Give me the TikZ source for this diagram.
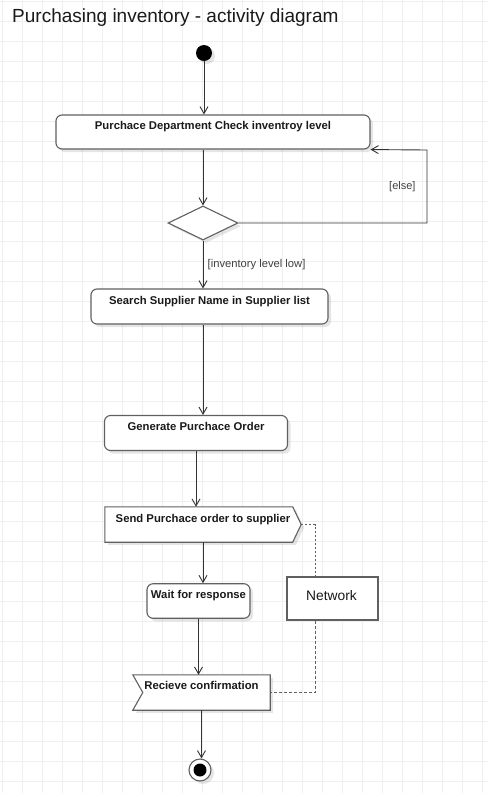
\documentclass[tikz,border=0pt]{standalone}
\usepackage{fontspec}
\setmainfont{Liberation Sans}
\usetikzlibrary{arrows.meta,shapes.geometric,shadows}
\definecolor{gridc}{HTML}{EFEFEF}
\definecolor{linec}{HTML}{333333}
\definecolor{boxc}{HTML}{606060}
\definecolor{txtc}{HTML}{1A1A1A}
\begin{document}
\begin{tikzpicture}[x=1pt,y=-1pt,
  shd/.style={drop shadow={shadow xshift=3pt,shadow yshift=-3pt,opacity=0.10,fill=black}},
  actbox/.style={draw=boxc,line width=1.1pt,fill=white,rounded corners=6pt,inner sep=0pt,shd},
  sigbox/.style={inner sep=0pt},
  sigline/.style={draw=boxc,line width=1.1pt,fill=white,shd},
  arr/.style={draw=linec,line width=0.9pt,-{Straight Barb[length=7pt,width=8pt]}},
  dotline/.style={draw=boxc,line width=1pt,dash pattern=on 2pt off 2pt},
  btxt/.style={font=\fontsize{11.3}{13}\selectfont\bfseries,text=txtc,inner sep=0pt,anchor=base},
  gtxt/.style={font=\fontsize{11.2}{13}\selectfont,text=black!75,inner sep=0pt,anchor=base west}
]
\useasboundingbox (0,0) rectangle (488,793);
\fill[white] (0,0) rectangle (488,793);
% grid
\foreach \i in {0,...,24} \draw[gridc,line width=0.8pt] (2.3+20*\i,0) -- (2.3+20*\i,793);
\foreach \j in {0,...,39} \draw[gridc,line width=0.8pt] (0,1.7+20*\j) -- (488,1.7+20*\j);

% title
\node[font=\fontsize{19}{22}\selectfont,text=txtc,inner sep=0pt,anchor=base west] (title) at (12,22.3) {Purchasing inventory - activity diagram};

% initial
\node[circle,fill=black,minimum size=16pt,inner sep=0pt,shd] (init) at (204,53) {};

% actions
\node[actbox,minimum width=314pt,minimum height=34pt] (act1) at (213,132) {};
\node[btxt] (t1) at ([yshift=-15.5pt]act1.north) {Purchace Department Check inventroy level};

\node[diamond,draw=boxc,line width=1.1pt,fill=white,minimum width=70pt,minimum height=34pt,inner sep=0pt,shd] (dec) at (203,223) {};

\node[actbox,minimum width=237pt,minimum height=35pt] (act2) at (209.5,306.5) {};
\node[btxt] (t2) at ([yshift=-16pt]act2.north) {Search Supplier Name in Supplier list};

\node[actbox,minimum width=183pt,minimum height=35pt] (act3) at (196,433) {};
\node[btxt] (t3) at ([yshift=-15.5pt]act3.north) {Generate Purchace Order};

\node[sigbox,minimum width=196pt,minimum height=35pt] (send) at (203,524.5) {};
\draw[sigline] (send.north west) -- ([xshift=-8.5pt]send.north east) -- (send.east) -- ([xshift=-8.5pt]send.south east) -- (send.south west) -- cycle;
\node[btxt] (t4) at ([yshift=-15.5pt]send.north) {Send Purchace order to supplier};

\node[actbox,minimum width=103pt,minimum height=34.5pt] (wait) at (198.5,601) {};
\node[btxt] (t5) at ([yshift=-15.5pt]wait.north) {Wait for response};

\node[draw=boxc,line width=1.1pt,fill=white,minimum width=91pt,minimum height=43pt,inner sep=0pt] (net) at (332.5,598.5) {};
\node[font=\fontsize{13.8}{16}\selectfont,text=txtc,inner sep=0pt,anchor=base] (tnet) at (331.5,600) {Network};

\node[sigbox,minimum width=137pt,minimum height=35pt] (recv) at (201.5,692.5) {};
\draw[sigline] (recv.north west) -- (recv.north east) -- (recv.south east) -- (recv.south west) -- ([xshift=10pt]recv.west) -- cycle;
\node[btxt] (t6) at ([yshift=-15pt]recv.north) {Recieve confirmation};

% final
\node[circle,draw=boxc,line width=1.1pt,fill=white,minimum size=22pt,inner sep=0pt,shd] (final) at (200,770) {};
\node[circle,fill=black,minimum size=13pt,inner sep=0pt] (finalin) at (final.center) {};

% connectors
\draw[arr] (init) -- (init |- act1.north);
\draw[arr] (act1.south -| dec) -- (dec.north);
\coordinate (lp) at (427,150);
\draw[arr] (dec.east) -| (lp) -- (act1.south east);
\node[gtxt,font=\fontsize{11}{13}\selectfont] (lelse) at (389,189) {[else]};
\draw[arr] (dec.south) -- (dec.south |- act2.north);
\node[gtxt] (llow) at (207.5,267.5) {[inventory level low]};
\draw[arr] (act2.south -| dec) -- (act3.north -| dec);
\draw[arr] (act3.south) -- (act3.south |- send.north);
\draw[arr] (send.south) -- (send.south |- wait.north);
\draw[arr] (wait.south) -- (wait.south |- recv.north);
\draw[arr] (recv.south) -- (recv.south |- final.north);

% dotted object flow
\coordinate (d1) at (315,524.5);
\draw[dotline] (send.east) -- (d1) -- (d1 |- net.north);
\draw[dotline,dash pattern=on 3pt off 2pt] (d1 |- net.south) -- (d1 |- recv.east) -- (recv.east);
\end{tikzpicture}
\end{document}
